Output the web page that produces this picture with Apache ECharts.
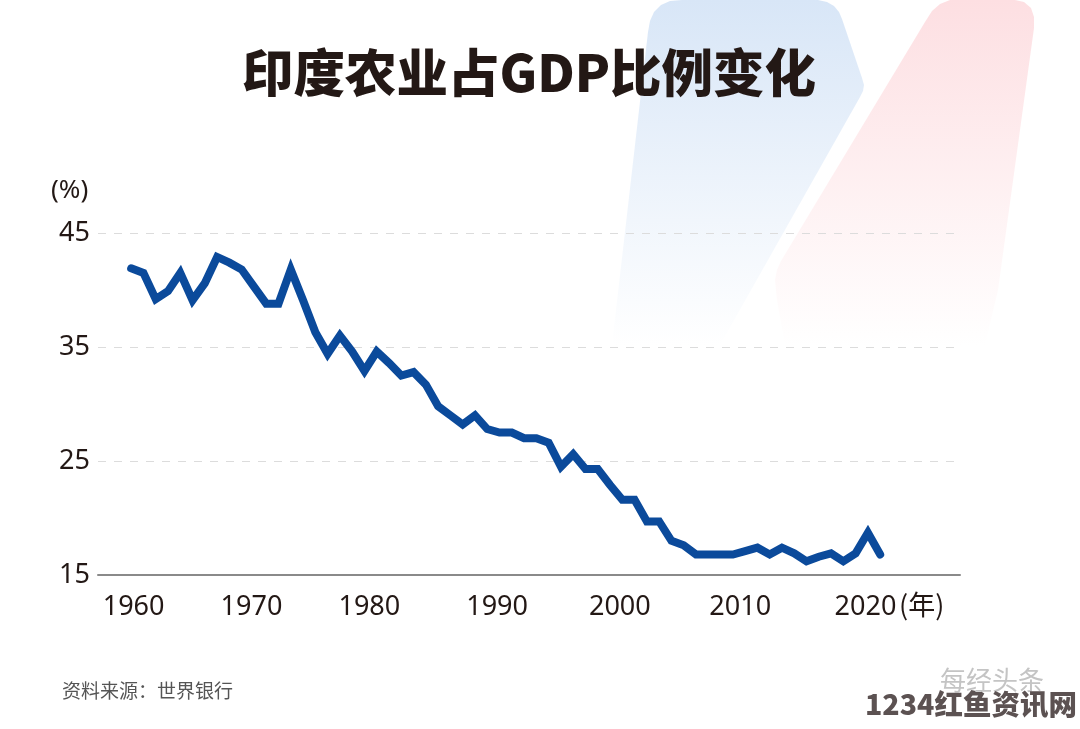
<!DOCTYPE html>
<html lang="zh">
<head>
<meta charset="utf-8">
<title>印度农业占GDP比例变化</title>
<script src="https://cdn.jsdelivr.net/npm/echarts@6/dist/echarts.min.js"></script>
<style>
  html, body { margin: 0; padding: 0; background: #fff; }
  #chart { width: 1080px; height: 729px; }
</style>
</head>
<body>
<div id="chart"></div>
<script>
const FONT = '"Noto Sans", "Noto Sans CJK SC", sans-serif'
const CJK = '"Noto Sans CJK SC", sans-serif'

const startYear = 1960
const shareOfGdp = [
  41.9, 41.5, 39.2, 39.9, 41.5, 39.1, 40.6, 42.9, 42.4, 41.8,
  40.3, 38.8, 38.8, 41.8, 39.1, 36.3, 34.4, 36.0, 34.6, 32.9,
  34.6, 33.6, 32.5, 32.8, 31.7, 29.8, 29.0, 28.2, 29.0, 27.8,
  27.5, 27.5, 27.0, 27.0, 26.6, 24.5, 25.6, 24.3, 24.3, 22.9,
  21.6, 21.6, 19.7, 19.7, 18.0, 17.6, 16.8, 16.8, 16.8, 16.8,
  17.1, 17.4, 16.8, 17.4, 16.9, 16.2, 16.6, 16.9, 16.2, 16.9,
  18.7, 16.8
]
const yTicks = { min: 15, max: 45, interval: 10 }
// 原图的年份标注并不严格对齐数据，这里按原图位置摆放
const xLabelAnchors = [1960.2, 1969.8, 1979.4, 1989.8, 1999.8, 2009.6, 2019.8]

const seriesData = shareOfGdp.map((v, i) => [startYear + i, v])

// 背景的蓝、红两块渐变色
function fade(top, bottom) {
  return new echarts.graphic.LinearGradient(0, 0, 0, 1, [
    { offset: 0, color: top },
    { offset: 1, color: bottom }
  ])
}

const chart = echarts.init(document.getElementById('chart'), null, { renderer: 'canvas' })
chart.setOption({
  backgroundColor: '#fff',
  animation: false,
  title: {
    text: '印度农业占GDP比例变化',
    left: 524,
    top: 42,
    textAlign: 'center',
    textStyle: { fontFamily: CJK, fontSize: 51.5, fontWeight: 900, color: '#231815' }
  },
  grid: { left: 98, right: 120, top: 233, bottom: 154 },
  xAxis: {
    type: 'value',
    min: 1957.3,
    max: 2027.5,
    splitLine: { show: false },
    axisLine: { show: true, onZero: false, lineStyle: { color: '#8a8a8a', width: 2 } },
    axisTick: { show: false },
    axisLabel: {
      customValues: xLabelAnchors,
      formatter: v => String(Math.round(v / 10) * 10),
      margin: 19,
      fontFamily: FONT,
      fontSize: 27,
      color: '#231815'
    }
  },
  yAxis: {
    type: 'value',
    min: yTicks.min,
    max: yTicks.max,
    interval: yTicks.interval,
    axisLine: { show: false },
    axisTick: { show: false },
    axisLabel: { margin: 8, fontFamily: FONT, fontSize: 27, color: '#231815' },
    splitLine: {
      showMinLine: false,
      lineStyle: { type: [8, 8], color: '#dcdcdc', width: 1 }
    }
  },
  series: [{
    type: 'line',
    data: seriesData,
    symbol: 'none',
    lineStyle: { color: '#0b4a9b', width: 8, cap: 'round', join: 'miter' },
    z: 5
  }],
  graphic: [
    {
      type: 'polygon',
      z: -10,
      shape: {
        points: [[612, 345], [648, 32], [650, 21], [654, 12], [661, 5], [670, 1], [682, 0], [818, 0], [827, 2], [834, 6], [839, 12], [842, 19], [862, 78], [864, 85], [863, 91], [860, 97], [720, 345]]
      },
      style: { fill: fade('#d8e6f7', '#ffffff') }
    },
    {
      type: 'polygon',
      z: -10,
      shape: {
        points: [[785, 345], [777, 300], [775, 280], [777, 270], [781, 261], [925, 22], [932, 11], [940, 4], [950, 0], [1015, 0], [1024, 2], [1031, 8], [1034, 17], [1034, 28], [998, 290], [985, 345]]
      },
      style: { fill: fade('#fddfe2', '#ffffff') }
    },
    {
      type: 'text', left: 51, top: 178,
      style: { text: '(%)', font: '26px ' + FONT, fill: '#231815' }
    },
    {
      type: 'text', left: 899, top: 591,
      style: { text: '(年)', font: '27px ' + CJK, fill: '#231815' }
    },
    {
      type: 'text', left: 62, top: 681,
      style: { text: '资料来源：世界银行', font: '19px ' + CJK, fill: '#555555' }
    },
    {
      type: 'text', left: 940, top: 667,
      style: { text: '每经头条', font: '26px ' + CJK, fill: '#c4c4c4' }
    },
    {
      type: 'text', left: 865, top: 690,
      style: { text: '1234红鱼资讯网', font: '900 28.5px ' + CJK, fill: '#5c5252' }
    }
  ]
})

window.addEventListener('resize', () => chart.resize())
</script>
</body>
</html>
